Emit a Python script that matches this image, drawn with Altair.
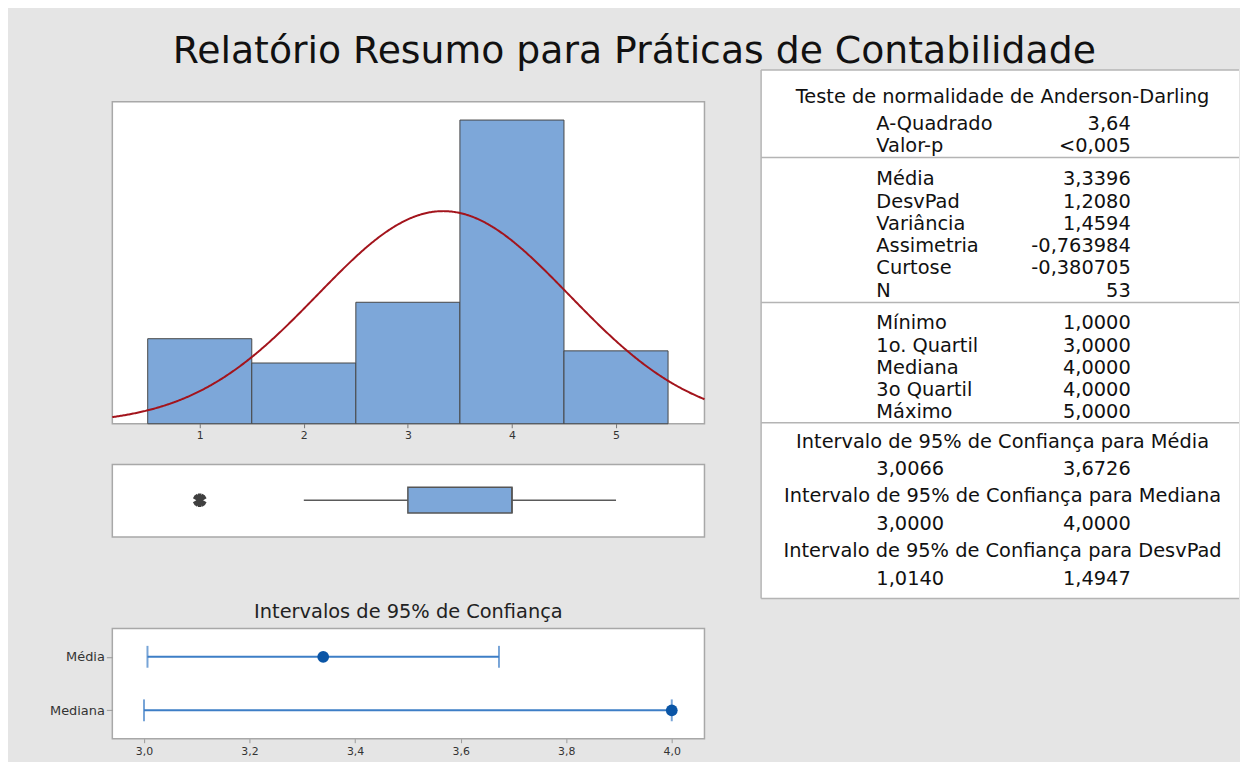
import altair as alt
import pandas as pd

FONT = "DejaVu Sans"
BG = "#e5e5e5"
BLUE = "#7da7d9"
PANEL_STROKE = "#a8a8a8"

# ---------------- data ----------------
bin_centers = [1, 2, 3, 4, 5]
bin_counts = [7, 5, 10, 25, 6]
sample_mean = 3.3396
sample_sd = 1.2080
sample_n = 53

box_q1 = [3.0]
box_median = [4.0]
box_q3 = [4.0]
whisker_low = [2.0]
whisker_high = [5.0]
outlier_values = [1.0]

ci_labels = ["Média", "Mediana"]
ci_lower = [3.0066, 3.0000]
ci_upper = [3.6726, 4.0000]
ci_estimate = [3.3396, 4.0000]
ci_ticks = [3.0, 3.2, 3.4, 3.6, 3.8, 4.0]

ad_title = "Teste de normalidade de Anderson-Darling"
ad_labels = ["A-Quadrado", "Valor-p"]
ad_values = ["3,64", "<0,005"]
desc_labels = ["Média", "DesvPad", "Variância", "Assimetria", "Curtose", "N"]
desc_values = ["3,3396", "1,2080", "1,4594", "-0,763984", "-0,380705", "53"]
quart_labels = ["Mínimo", "1o. Quartil", "Mediana", "3o Quartil", "Máximo"]
quart_values = ["1,0000", "3,0000", "4,0000", "4,0000", "5,0000"]
int_titles = [
    "Intervalo de 95% de Confiança para Média",
    "Intervalo de 95% de Confiança  para Mediana",
    "Intervalo de 95% de Confiança  para DesvPad",
]
int_low_text = ["3,0066", "3,0000", "1,0140"]
int_high_text = ["3,6726", "4,0000", "1,4947"]

# ---------------- layout constants ----------------
PW = 596           # panel width
TW, TH = 481, 532  # table size
X_DOMAIN = [0.16, 5.85]
TABLE_FS = 19.5


def panel_view():
    return alt.ViewBackground(fill="white", stroke=PANEL_STROKE, strokeWidth=1.5)


# ---------------- histogram ----------------
xs = alt.Scale(domain=X_DOMAIN, nice=False, zero=False)
ys = alt.Scale(domain=[0, 26.5], nice=False)
hist_df = pd.DataFrame({"center": bin_centers, "count": bin_counts})

bars = (
    alt.Chart(hist_df)
    .transform_calculate(lo="datum.center - 0.5", hi="datum.center + 0.5")
    .mark_rect(fill=BLUE, stroke="#474747", strokeWidth=1)
    .encode(
        x=alt.X("lo:Q", scale=xs,
                axis=alt.Axis(values=bin_centers, format="d", title=None, grid=False,
                              domain=False, labelFont=FONT, labelFontSize=11,
                              labelColor="#333333", tickColor="#777777", tickSize=4,
                              labelPadding=2)),
        x2="hi:Q",
        y=alt.Y("count:Q", scale=ys, axis=None),
        y2=alt.datum(0),
    )
)

curve = (
    alt.Chart(alt.sequence(X_DOMAIN[0], X_DOMAIN[1] + 0.005, 0.01, as_="v"))
    .transform_calculate(
        dens=f"{sample_n} * exp(-0.5 * pow((datum.v - {sample_mean}) / {sample_sd}, 2))"
             f" / ({sample_sd} * sqrt(2 * PI))"
    )
    .mark_line(color="#a3141c", strokeWidth=2)
    .encode(x=alt.X("v:Q", scale=xs, title=None), y=alt.Y("dens:Q", scale=ys, axis=None))
)

hist = alt.layer(bars, curve).properties(width=PW, height=324, view=panel_view())

# ---------------- boxplot ----------------
yb = alt.Scale(domain=[0, 1], nice=False)
box_df = pd.DataFrame({"q1": box_q1, "med": box_median, "q3": box_q3,
                       "wlo": whisker_low, "whi": whisker_high})
out_df = pd.DataFrame({"v": outlier_values})
BOX_LO, BOX_HI, MID = 0.33, 0.685, 0.507

w1 = alt.Chart(box_df).mark_rule(color="#5a5a5a", strokeWidth=1.5).encode(
    x=alt.X("wlo:Q", scale=xs, axis=None), x2="q1:Q",
    y=alt.YDatum(MID, type="quantitative", scale=yb, axis=None))
w2 = alt.Chart(box_df).mark_rule(color="#5a5a5a", strokeWidth=1.5).encode(
    x=alt.X("q3:Q", scale=xs, axis=None), x2="whi:Q",
    y=alt.YDatum(MID, type="quantitative", scale=yb, axis=None))
boxr = alt.Chart(box_df).mark_rect(fill=BLUE, stroke="#555555", strokeWidth=1.5).encode(
    x=alt.X("q1:Q", scale=xs, axis=None), x2="q3:Q",
    y=alt.YDatum(BOX_LO, type="quantitative", scale=yb, axis=None), y2=alt.datum(BOX_HI))
medr = alt.Chart(box_df).mark_rule(color="#555555", strokeWidth=1.5).encode(
    x=alt.X("med:Q", scale=xs, axis=None),
    y=alt.YDatum(BOX_LO, type="quantitative", scale=yb, axis=None), y2=alt.datum(BOX_HI))
star = alt.Chart(out_df).mark_point(
    shape="M0,-1L0,1M-0.87,-0.5L0.87,0.5M-0.87,0.5L0.87,-0.5M-0.6,-0.8L0.6,0.8M-0.6,0.8L0.6,-0.8",
    stroke="#404040", strokeWidth=3.5, size=190, opacity=1,
).encode(x=alt.X("v:Q", scale=xs, axis=None),
         y=alt.YDatum(MID, type="quantitative", scale=yb, axis=None))

box = alt.layer(w1, w2, boxr, medr, star).properties(width=PW, height=73, view=panel_view())

# ---------------- confidence intervals ----------------
cx = alt.Scale(domain=[2.94, 4.062], nice=False, zero=False)
cy = alt.Scale(type="point", domain=ci_labels, padding=0.53)
ci_df = pd.DataFrame({"label": ci_labels, "lo": ci_lower, "hi": ci_upper, "est": ci_estimate})
CI_LINE = "#3d7ec6"
x_axis = alt.Axis(values=ci_ticks, labelExpr="replace(format(datum.value, '.1f'), '.', ',')",
                  title=None, grid=False, domain=False, labelFont=FONT, labelFontSize=11,
                  labelColor="#333333", tickColor="#999999", tickSize=4, labelPadding=3)
y_axis = alt.Axis(title=None, grid=False, domain=False, labelFont=FONT, labelFontSize=13,
                  labelColor="#333333", tickColor="#999999", tickSize=6, labelPadding=2)

ci_rule = alt.Chart(ci_df).mark_rule(color=CI_LINE, strokeWidth=2).encode(
    x=alt.X("lo:Q", scale=cx, axis=x_axis), x2="hi:Q",
    y=alt.Y("label:N", scale=cy, axis=y_axis, sort=ci_labels))
ci_t1 = alt.Chart(ci_df).mark_tick(color=CI_LINE, thickness=2, size=22, orient="vertical").encode(
    x=alt.X("lo:Q", scale=cx), y=alt.Y("label:N", scale=cy, sort=ci_labels))
ci_t2 = alt.Chart(ci_df).mark_tick(color=CI_LINE, thickness=2, size=22, orient="vertical").encode(
    x=alt.X("hi:Q", scale=cx), y=alt.Y("label:N", scale=cy, sort=ci_labels))
ci_pt = alt.Chart(ci_df).mark_point(filled=True, size=140, color="#0a55a6", opacity=1).encode(
    x=alt.X("est:Q", scale=cx), y=alt.Y("label:N", scale=cy, sort=ci_labels))

ci = alt.layer(ci_rule, ci_t1, ci_t2, ci_pt).properties(
    width=PW, height=111, view=panel_view(),
    title=alt.TitleParams("Intervalos de 95% de Confiança", font=FONT, fontSize=19.5,
                          fontWeight="normal", color="#222222", anchor="middle", offset=6),
)

# ---------------- statistics table ----------------
rows = []  # (text, kind, x, y)
LX, RX, CX = 116, 372, 243
y = 27
rows.append((ad_title, "center", CX, y))
y = 54
for lab, val in zip(ad_labels, ad_values):
    rows.append((lab, "left", LX, y)); rows.append((val, "right", RX, y)); y += 22.6
seps = [88]
y = 110
for lab, val in zip(desc_labels, desc_values):
    rows.append((lab, "left", LX, y)); rows.append((val, "right", RX, y)); y += 22.4
seps.append(234)
y = 255
for lab, val in zip(quart_labels, quart_values):
    rows.append((lab, "left", LX, y)); rows.append((val, "right", RX, y)); y += 22.4
seps.append(355)
y = 374
for t, lo, hi in zip(int_titles, int_low_text, int_high_text):
    rows.append((t, "center", CX, y)); y += 27.6
    rows.append((lo, "left", LX, y)); rows.append((hi, "right", RX, y)); y += 27.6

tab_df = pd.DataFrame(rows, columns=["text", "kind", "x", "y"])
tx = alt.Scale(domain=[0, TW], nice=False, zero=False)
ty = alt.Scale(domain=[0, TH], nice=False, zero=False, reverse=True)


def text_layer(kind, align):
    return alt.Chart(tab_df).transform_filter(alt.datum.kind == kind).mark_text(
        align=align, baseline="middle", font=FONT, fontSize=TABLE_FS, color="#111111"
    ).encode(x=alt.X("x:Q", scale=tx, axis=None), y=alt.Y("y:Q", scale=ty, axis=None), text="text:N")


line_df = pd.DataFrame({"y": [0] + seps + [TH], "x0": 0, "x1": TW})
hlines = alt.Chart(line_df).mark_rule(color="#b4b4b4", strokeWidth=1.5).encode(
    x=alt.X("x0:Q", scale=tx, axis=None), x2="x1:Q", y=alt.Y("y:Q", scale=ty, axis=None))
vline = alt.Chart(pd.DataFrame({"x": [0], "y0": [0], "y1": [TH]})).mark_rule(
    color="#b4b4b4", strokeWidth=1.5).encode(
    x=alt.X("x:Q", scale=tx, axis=None), y=alt.Y("y0:Q", scale=ty, axis=None), y2="y1:Q")

table = alt.layer(hlines, vline, text_layer("left", "left"), text_layer("right", "right"),
                  text_layer("center", "center")).properties(
    width=TW, height=TH, view=alt.ViewBackground(fill="white", stroke="transparent"))


# ---------------- composition ----------------
def spacer(h):
    return alt.Chart(pd.DataFrame({"a": [0]})).mark_point(opacity=0).encode(
        x=alt.value(0), y=alt.value(0)
    ).properties(width=PW, height=h, view=alt.ViewBackground(stroke="transparent"))


left = alt.vconcat(spacer(32), hist, spacer(41), box, spacer(92), ci, spacing=0, bounds="flush")

chart = alt.hconcat(left, table, spacing=51).properties(
    title=alt.TitleParams("Relatório Resumo para Práticas de Contabilidade", font=FONT,
                          fontSize=38, fontWeight="normal", color="#111111", anchor="middle",
                          offset=-4, dx=-10),
    padding={"left": 41, "top": 23, "right": 0, "bottom": 2},
    background=BG,
).configure_view(strokeWidth=0)

chart.save("out.html", embed_options={"renderer": "svg", "actions": False})
